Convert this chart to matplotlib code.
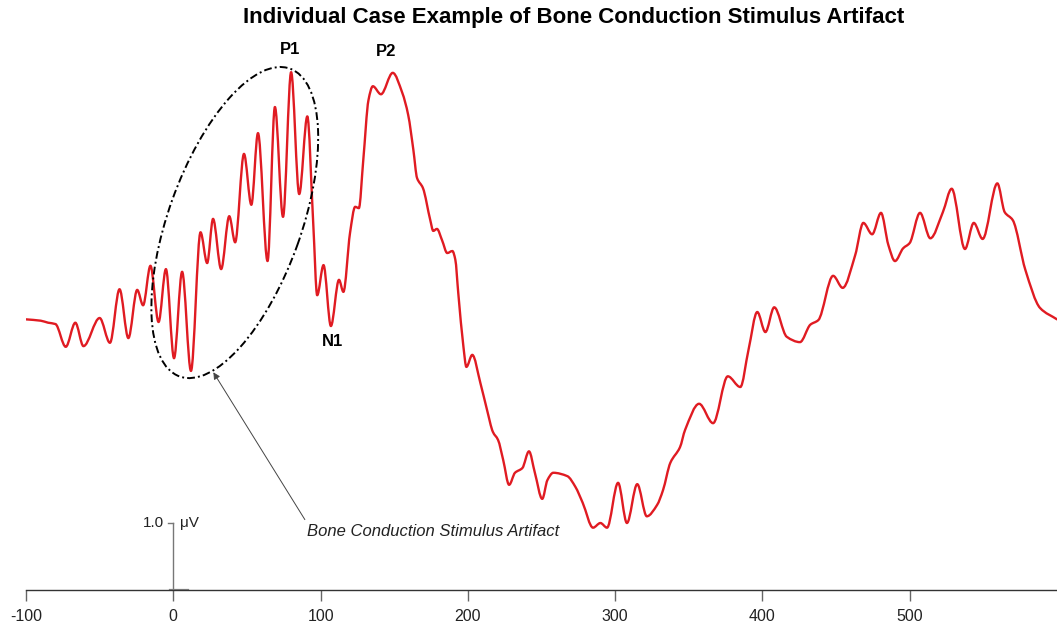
import matplotlib

matplotlib.use("Agg")

import matplotlib.pyplot as plt
import numpy as np
from matplotlib.patches import Ellipse, PathPatch
from matplotlib.path import Path
from matplotlib.transforms import ScaledTranslation

plt.rcParams["font.family"] = ["Liberation Sans", "DejaVu Sans"]
plt.rcParams["axes.unicode_minus"] = False

# averaged trace, latency (ms) vs amplitude (uV) relative to pre-stimulus baseline
time_ms = [
    -100, -90, -85, -80, -73, -66.5, -61, -50, -43, -36.5,
    -30.5, -24.5, -20.5, -15.5, -10, -5, 0.5, 6, 12, 18.5,
    23, 27, 32.5, 38, 42, 48, 53, 57.5, 64, 69,
    74.5, 80, 85.5, 91, 95, 97.7, 102, 107, 112.5, 115.5,
    120, 123.5, 126, 129, 132.5, 135.5, 141, 149, 155.5, 159.5,
    163, 165.5, 169.5, 174.5, 176.5, 179, 182.5, 186, 189.5, 191.5,
    193.5, 197, 199, 203, 208.5, 213, 217, 220.5, 224, 228,
    232, 237, 241.5, 245.5, 250.5, 254, 258, 267.5, 273, 278,
    285, 290, 294.5, 302, 308, 315, 321.5, 328.5, 332.5, 337.5,
    344, 347.5, 357, 366.5, 376.5, 385, 390.5, 396.5, 402, 408,
    416.5, 425.5, 432.5, 438, 448, 454.5, 463, 468.5, 474.5, 480.5,
    485.5, 490, 495.5, 500, 507, 514, 522.5, 528.5, 537.5, 543.5,
    549.5, 559.5, 564.5, 570, 578.5, 588.5, 600,
]
amp_uv = [
    0.01, -0.01, -0.04, -0.06, -0.40, -0.04, -0.39, 0.03, -0.34, 0.46,
    -0.27, 0.45, 0.22, 0.81, -0.03, 0.76, -0.57, 0.72, -0.76, 1.31,
    0.85, 1.51, 0.76, 1.55, 1.16, 2.48, 1.72, 2.79, 0.88, 3.18,
    1.54, 3.70, 1.88, 3.04, 1.45, 0.37, 0.82, -0.09, 0.60, 0.42,
    1.30, 1.69, 1.67, 2.39, 3.28, 3.49, 3.37, 3.69, 3.39, 3.06,
    2.54, 2.12, 1.97, 1.49, 1.33, 1.36, 1.19, 1.00, 1.03, 0.90,
    0.40, -0.40, -0.70, -0.52, -0.94, -1.34, -1.67, -1.79, -2.09, -2.46,
    -2.28, -2.21, -1.96, -2.28, -2.67, -2.39, -2.28, -2.33, -2.49, -2.73,
    -3.10, -3.03, -3.10, -2.43, -3.03, -2.45, -2.93, -2.76, -2.54, -2.13,
    -1.90, -1.64, -1.25, -1.54, -0.84, -1.00, -0.45, 0.12, -0.18, 0.19,
    -0.25, -0.33, -0.07, 0.00, 0.66, 0.48, 0.97, 1.45, 1.28, 1.60,
    1.12, 0.88, 1.07, 1.15, 1.60, 1.22, 1.61, 1.96, 1.06, 1.45,
    1.21, 2.04, 1.61, 1.49, 0.75, 0.18, 0.01,
]

# labelled components: name -> index into the trace, label offset in points
components = {"P1": (31, (-1, 16)), "P2": (47, (-5, 15)), "N1": (37, (1, -11))}

x_ticks = [-100, 0, 100, 200, 300, 400, 500]
x_range = (-100, 600)
y_range = (-4.03, 4.18)
scale_uv = 1.0

title = "Individual Case Example of Bone Conduction Stimulus Artifact"
artifact_note = "Bone Conduction Stimulus Artifact"

TRACE_RED = "#e01b22"


def _smooth_path(x, y):
    """Cubic Bezier path through every sample (monotone Hermite tangents)."""
    x = np.asarray(x, dtype=float)
    y = np.asarray(y, dtype=float)
    d = np.diff(y) / np.diff(x)
    m = np.zeros_like(y)
    m[0], m[-1] = d[0], d[-1]
    for i in range(1, len(y) - 1):
        if d[i - 1] * d[i] > 0:
            m[i] = 2.0 / (1.0 / d[i - 1] + 1.0 / d[i])
    verts = [(x[0], y[0])]
    codes = [Path.MOVETO]
    for i in range(len(x) - 1):
        h = x[i + 1] - x[i]
        verts += [
            (x[i] + h / 3, y[i] + m[i] * h / 3),
            (x[i + 1] - h / 3, y[i + 1] - m[i + 1] * h / 3),
            (x[i + 1], y[i + 1]),
        ]
        codes += [Path.CURVE4] * 3
    return Path(verts, codes)


fig = plt.figure(figsize=(10.57, 6.28), dpi=100)
ax = fig.add_axes([26 / 1057, 38 / 628, 1031 / 1057, 550 / 628])
ax.set_xlim(*x_range)
ax.set_ylim(*y_range)

ax.add_patch(PathPatch(_smooth_path(time_ms, amp_uv), fill=False,
                       edgecolor=TRACE_RED, linewidth=1.7, capstyle="round",
                       joinstyle="round", zorder=3))

for name, (idx, offset) in components.items():
    ax.annotate(name, xy=(time_ms[idx], amp_uv[idx]), xytext=offset,
                textcoords="offset points", ha="center", va="center",
                fontsize=12, fontweight="bold")

# dash-dot ring around the early stimulus artifact
ring = Ellipse((0, 0), width=3.27, height=1.33, angle=70.3, fill=False,
               edgecolor="black", linewidth=1.4, linestyle=(0, (4, 1.6, 1, 1.6)),
               transform=fig.dpi_scale_trans + ScaledTranslation(41.75, 1.455, ax.transData),
               zorder=4)
ax.add_patch(ring)

ax.annotate(artifact_note, xy=(27.2, -0.78), xytext=(91, -3.15),
            ha="left", va="center", fontsize=12, fontstyle="italic", color="#222",
            arrowprops=dict(arrowstyle="-|>", color="#444", lw=0.7,
                            mutation_scale=10, shrinkA=1, shrinkB=0,
                            relpos=(0, 1)))

# amplitude scale bar at stimulus onset
y0 = y_range[0]
ax.plot([0, 0], [y0, y0 + scale_uv], color="#777", lw=1.0, clip_on=False)
ax.plot([-3.4, 0], [y0 + scale_uv, y0 + scale_uv], color="#777", lw=1.0)
ax.plot([-2, 10], [y0, y0], color="#888", lw=1.6)
ax.text(-6.5, y0 + scale_uv, f"{scale_uv:.1f}", ha="right", va="center", fontsize=11, color="#222")
ax.text(4.8, y0 + scale_uv, "\u03bcV", ha="left", va="center", fontsize=11, color="#222")

for side in ("left", "top", "right"):
    ax.spines[side].set_visible(False)
ax.spines["bottom"].set_color("#333")
ax.spines["bottom"].set_linewidth(1.0)
ax.set_yticks([])
ax.set_xticks(x_ticks)
ax.tick_params(axis="x", direction="out", length=8, width=1, color="#666",
               pad=6, labelsize=11.5, labelcolor="#222")

fig.text(574 / 1057, 1 - 18 / 628, title, ha="center", va="center",
         fontsize=16, fontweight="bold")

fig.savefig("out.png", dpi=100, facecolor="white")
